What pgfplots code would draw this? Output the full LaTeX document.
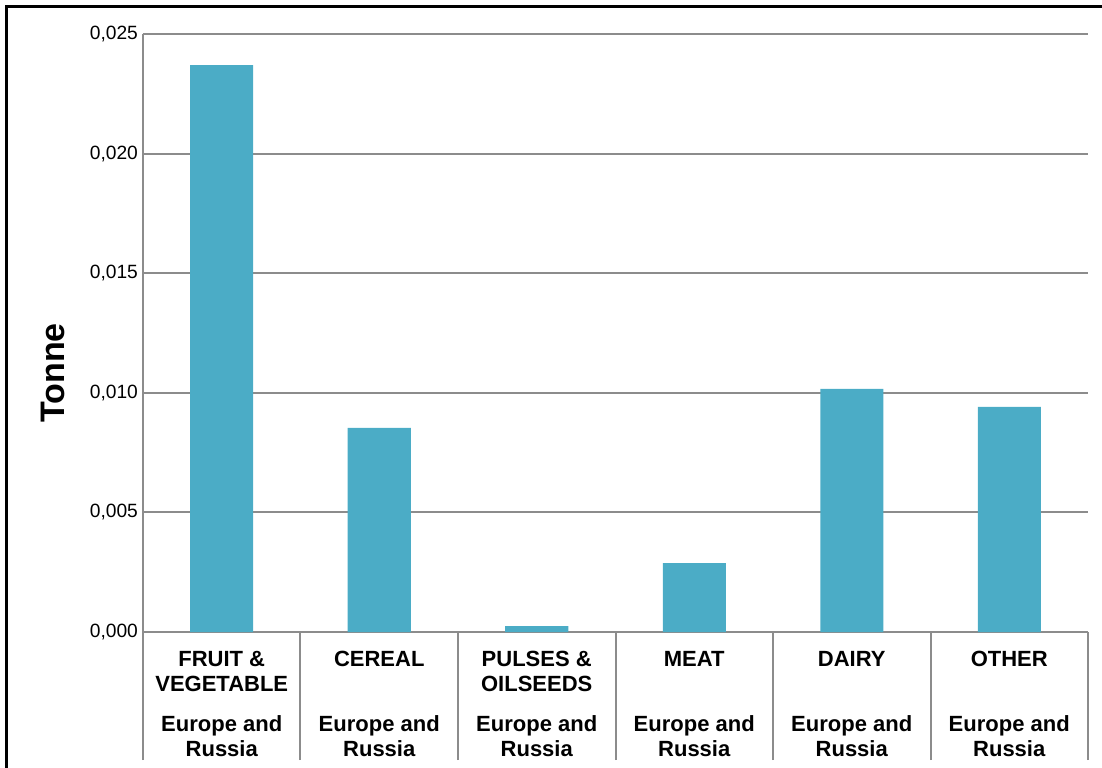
\documentclass[border=0pt]{standalone}
\usepackage{fontspec}
\setmainfont{Liberation Sans}
\usepackage{pgfplots}
\pgfplotsset{compat=1.18}
\definecolor{barteal}{RGB}{75,172,198}
\definecolor{gridgray}{RGB}{140,140,140}
\begin{document}
\begin{tikzpicture}
  % 1px = 0.5pt, axis box lower left at (0,0)
  \useasboundingbox (-71.5pt,-67.5pt) rectangle (479.5pt,316pt);
  \draw[black, line width=1.5pt] (-68pt,-68pt) -- (-68pt,312.5pt) -- (480pt,312.5pt);
  \begin{axis}[
    at={(0,0)}, anchor=south west,
    scale only axis,
    width=472.5pt, height=299pt,
    xmin=-0.5, xmax=5.5,
    ymin=0, ymax=0.025,
    axis lines*=left,
    axis line style={gridgray, line width=1pt},
    ytick={0,0.005,0.01,0.015,0.02,0.025},
    ymajorgrids=true,
    grid style={gridgray, line width=1pt},
    ytick style={draw=none},
    yticklabel style={font=\fontsize{9.6}{11}\selectfont, xshift=1pt},
    /pgf/number format/.cd, fixed, fixed zerofill, precision=3, use comma, assume math mode=true,
    /pgfplots/.cd,
    scaled y ticks=false,
    ylabel={Tonne},
    ylabel style={font=\fontsize{17}{20}\selectfont\bfseries, at={(axis description cs:-0.0952,0.433)}, anchor=center},
    xtick={0,1,2,3,4,5},
    xtick style={draw=none},
    xticklabels={
      {FRUIT \&\\VEGETABLE\\[7.5pt]Europe and\\Russia},
      {CEREAL\\~\\[7.5pt]Europe and\\Russia},
      {PULSES \&\\OILSEEDS\\[7.5pt]Europe and\\Russia},
      {MEAT\\~\\[7.5pt]Europe and\\Russia},
      {DAIRY\\~\\[7.5pt]Europe and\\Russia},
      {OTHER\\~\\[7.5pt]Europe and\\Russia}},
    xticklabel style={font=\fontsize{11}{12.5}\selectfont\bfseries, align=center, anchor=north, yshift=-2pt},
    extra x ticks={-0.5,0.5,1.5,2.5,3.5,4.5,5.5},
    extra x tick labels={},
    extra x tick style={major tick length=64pt, tick align=outside, xtick style={draw=gridgray, line width=1pt}},
    ybar, bar width=31.5pt,
  ]
    \addplot[fill=barteal, draw=none] coordinates {
      (0,0.02370) (1,0.00853) (2,0.00025) (3,0.00288) (4,0.01016) (5,0.00941)
    };
  \end{axis}
\end{tikzpicture}
\end{document}
